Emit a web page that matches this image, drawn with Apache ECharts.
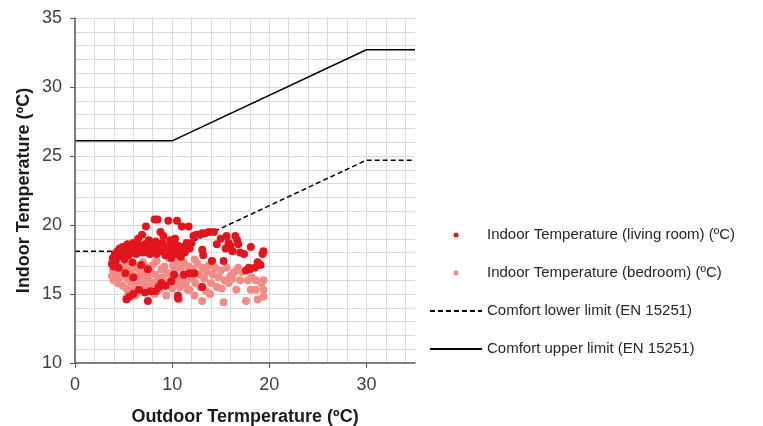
<!DOCTYPE html>
<html>
<head>
<meta charset="utf-8">
<script src="https://cdn.jsdelivr.net/npm/echarts@6/dist/echarts.min.js"></script>
<style>html,body{margin:0;padding:0;background:#fff}#c{width:763px;height:426px}</style>
</head>
<body>
<div id="c"></div>
<script>
const xTickLabels = [0, 10, 20, 30];
const yTickLabels = [10, 15, 20, 25, 30, 35];

const seriesNames = [
  'Indoor Temperature (living room) (ºC)',
  'Indoor Temperature (bedroom) (ºC)',
  'Comfort lower limit (EN 15251)',
  'Comfort upper limit (EN 15251)'
];

const livingRoom = [
  [3.8,17.2],[3.9,17.6],[4.1,17.9],[4.2,17.4],[4.4,18.1],[4.5,17.7],[4.6,18.3],[4.8,17.9],[4.9,18.4],[5.0,18.0],
  [5.1,17.5],[5.3,18.2],[5.4,18.6],[5.5,17.8],[5.7,18.3],[5.9,18.0],[6.0,18.7],[6.2,18.4],[6.3,17.9],[6.5,19.0],
  [6.6,18.5],[6.8,18.2],[6.9,19.3],[7.0,18.0],[7.2,18.6],[7.3,19.9],[7.4,18.3],[7.6,18.9],[7.7,17.9],[7.9,18.5],
  [8.0,18.2],[8.2,20.4],[8.3,18.8],[8.4,17.9],[8.5,20.4],[8.6,18.4],[8.8,19.5],[8.9,18.1],[9.0,18.7],[9.1,19.2],
  [9.3,17.8],[9.4,18.4],[9.6,20.3],[9.6,18.0],[9.8,18.9],[9.9,17.6],[10.0,18.3],[10.1,18.7],[10.3,19.0],[10.4,17.9],
  [10.5,20.3],[10.6,18.5],[10.7,18.1],[10.9,17.7],[11.0,19.9],[11.1,18.4],[11.3,18.0],[11.5,18.7],[11.7,19.9],[11.8,18.3],
  [12.0,18.7],[12.2,19.2],[12.5,19.3],[12.8,19.3],[13.1,19.4],[13.4,19.4],[13.8,19.5],[14.3,19.5],[13.1,18.2],[13.2,17.8],
  [14.1,17.4],[14.6,18.6],[15.0,19.0],[15.3,17.4],[15.5,18.3],[15.6,19.2],[15.8,18.7],[16.0,18.5],[16.2,18.1],[16.5,19.2],
  [16.7,18.9],[16.8,18.6],[17.0,18.0],[17.4,17.9],[17.6,16.7],[18.0,16.8],[18.1,18.4],[18.5,16.9],[18.8,17.3],[19.1,17.1],
  [19.3,17.9],[19.4,18.1],[17.9,16.9],[18.9,17.2],
  [4.5,16.9],[5.2,16.5],[6.0,16.2],[6.8,17.1],[7.5,16.8],[11.2,16.4],[11.8,16.5],[12.3,16.5],[9.9,15.9],[10.2,16.4],
  [13.1,15.5],[8.3,15.2],[8.6,15.5],[8.9,15.8],[7.8,15.2],[7.2,15.1],[6.6,15.3],[6.0,15.0],[5.6,14.8],[5.3,14.6],
  [7.5,14.5],[10.6,14.7],[10.6,14.9],[9.3,15.6],[5.9,17.3],[4.0,17.0]
];

const bedroom = [
  [3.8,16.3],[4.0,16.0],[4.2,16.5],[4.4,15.8],[4.6,16.2],[4.7,16.8],[4.9,15.6],[5.0,16.4],[5.2,17.0],[5.3,15.4],
  [5.4,16.1],[5.6,16.7],[5.7,15.9],[5.9,16.4],[6.0,17.2],[6.1,15.6],[6.3,16.9],[6.4,16.2],[6.5,15.2],[6.7,16.6],
  [6.8,15.9],[7.0,17.3],[7.1,16.4],[7.2,15.7],[7.4,16.9],[7.5,16.1],[7.7,15.5],[7.8,16.6],[8.0,17.1],[8.1,15.8],
  [8.3,16.4],[8.4,17.4],[8.6,16.0],[8.7,15.3],[8.9,16.8],[9.0,16.2],[9.2,17.0],[9.3,15.6],[9.5,16.5],[9.6,17.6],
  [9.7,15.9],[9.9,16.3],[10.0,15.4],[10.1,17.1],[10.2,16.7],[10.4,15.8],[10.5,16.2],[10.6,17.4],[10.7,14.6],[10.8,15.5],
  [10.9,16.9],[11.1,16.0],[11.2,17.3],[11.4,15.7],[11.5,16.5],[11.7,17.0],[11.8,15.3],[12.0,16.1],[12.1,16.8],[12.3,14.9],
  [12.4,15.8],[12.6,17.2],[12.8,16.4],[12.9,15.5],[13.1,14.5],[13.1,16.9],[13.3,16.1],[13.5,15.2],[13.6,16.6],[13.8,17.1],
  [14.0,15.8],[14.2,16.4],[14.4,16.9],[14.6,15.5],[14.8,16.2],[15.0,16.7],[15.1,15.4],[15.3,14.4],[15.4,16.0],[15.6,16.9],
  [15.8,15.8],[16.0,16.3],[16.2,16.1],[16.4,16.6],[16.6,15.3],[16.8,16.9],[17.0,16.0],[17.2,16.6],[17.6,14.5],[17.8,16.0],
  [18.1,15.3],[18.2,16.2],[18.6,15.3],[18.6,16.0],[18.8,14.6],[19.2,15.8],[19.4,14.8],[19.4,15.3],[19.4,16.0],[5.3,14.7],
  [5.9,15.2],[6.2,14.9],[5.5,15.0],[3.9,16.8],[4.3,17.1],[9.4,14.9],[8.2,15.0],[11.6,15.3],[13.9,15.0],[14.1,17.4],
  [12.3,17.5]
];

const lowerLimit = [[0,18.1],[10,18.1],[30,24.7],[35,24.7]];
const upperLimit = [[0,26.1],[10,26.1],[30,32.7],[35,32.7]];

const FONT = 'Liberation Sans, Arial, sans-serif';
const gridColor = '#d9d9d9';
const xSplitColors = [];
for (let v = 0; v <= 34; v += 2) xSplitColors.push(gridColor);
xSplitColors.push('rgba(0,0,0,0)');

const chart = echarts.init(document.getElementById('c'), null, {renderer: 'canvas'});
chart.setOption({
  animation: false,
  backgroundColor: '#fff',
  textStyle: {fontFamily: FONT},
  grid: {left: 75, right: 348, top: 18, bottom: 63, containLabel: false, outerBoundsMode: 'none'},
  xAxis: [{
    type: 'value', min: 0, max: 35, interval: 10, z: 5,
    name: 'Outdoor Termperature (ºC)', nameLocation: 'middle', nameGap: 45,
    nameTextStyle: {fontSize: 18, fontWeight: 'bold', color: '#1a1a1a', fontFamily: FONT},
    axisLine: {show: true, lineStyle: {color: '#595959', width: 1.5}},
    axisTick: {show: true, length: 5, customValues: xTickLabels, lineStyle: {color: '#595959'}},
    axisLabel: {customValues: xTickLabels, fontSize: 18, color: '#404040', margin: 13, fontFamily: FONT},
    splitLine: {show: false}
  }, {
    type: 'value', min: 0, max: 35, interval: 2, position: 'top', z: 0,
    axisLine: {show: false}, axisTick: {show: false}, axisLabel: {show: false},
    splitLine: {show: true, lineStyle: {color: xSplitColors, width: 1}}
  }],
  yAxis: [{
    type: 'value', min: 10, max: 35, interval: 5, z: 5,
    name: 'Indoor Temperature (ºC)', nameLocation: 'middle', nameGap: 42, nameRotate: 90,
    nameTextStyle: {fontSize: 18, fontWeight: 'bold', color: '#1a1a1a', fontFamily: FONT},
    axisLine: {show: true, lineStyle: {color: '#595959', width: 1.5}},
    axisTick: {show: true, length: 5, customValues: yTickLabels, lineStyle: {color: '#595959'}},
    axisLabel: {customValues: yTickLabels, fontSize: 18, color: '#404040', margin: 13, fontFamily: FONT},
    splitLine: {show: false}
  }, {
    type: 'value', min: 10, max: 35, interval: 1, position: 'right', z: 0,
    axisLine: {show: false}, axisTick: {show: false}, axisLabel: {show: false},
    splitLine: {show: true, lineStyle: {color: gridColor, width: 1}}
  }],
  legend: {
    orient: 'vertical', left: 424, top: 222, itemWidth: 52, itemHeight: 5, itemGap: 22,
    data: [
      {name: seriesNames[0]},
      {name: seriesNames[1]},
      {name: seriesNames[2], itemStyle: {opacity: 0}},
      {name: seriesNames[3], itemStyle: {opacity: 0}}
    ],
    textStyle: {fontSize: 15, color: '#262626', lineHeight: 16, fontFamily: FONT}
  },
  series: [
    {name: seriesNames[2], type: 'line', data: lowerLimit, symbol: 'none', z: 1,
     lineStyle: {color: '#000', width: 1.5, type: [5, 3]}, itemStyle: {color: '#000'}},
    {name: seriesNames[3], type: 'line', data: upperLimit, symbol: 'none', z: 1,
     lineStyle: {color: '#000', width: 1.5, type: 'solid'}, itemStyle: {color: '#000'}},
    {name: seriesNames[1], type: 'scatter', data: bedroom, symbol: 'circle', symbolSize: 8, z: 2,
     itemStyle: {color: '#f28b86', opacity: 1}},
    {name: seriesNames[0], type: 'scatter', data: livingRoom, symbol: 'circle', symbolSize: 8, z: 3,
     itemStyle: {color: '#e3141c', opacity: 1}}
  ]
});
</script>
</body>
</html>
